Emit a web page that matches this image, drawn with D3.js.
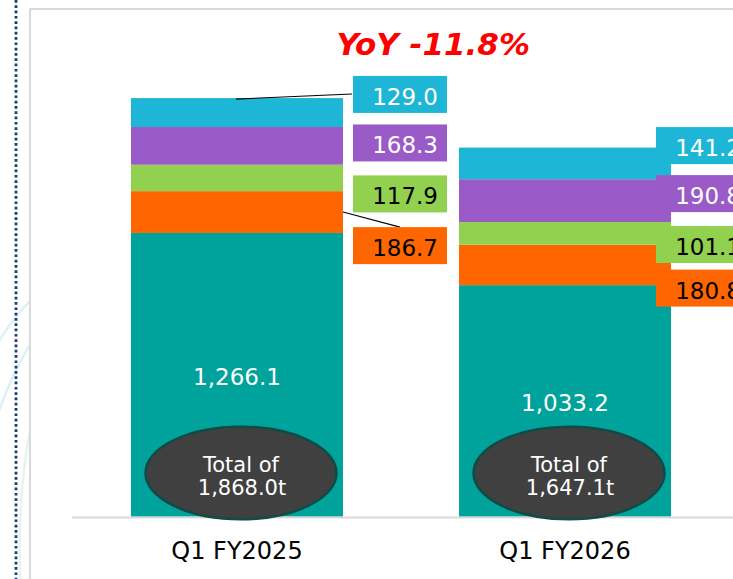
<!DOCTYPE html>
<html>
<head>
<meta charset="utf-8">
<script src="https://cdn.jsdelivr.net/npm/d3@7/dist/d3.min.js"></script>
<style>
  html, body { margin: 0; padding: 0; background: #ffffff; overflow: hidden; }
  svg { display: block; font-family: "DejaVu Sans", Verdana, sans-serif; }
</style>
</head>
<body>
<svg id="chart" width="733" height="579"></svg>
<script>
// Quarterly volumes (t), stacked from the bottom segment upward
const quarters = ["Q1 FY2025", "Q1 FY2026"];
const tealValues   = [1266.1, 1033.2];
const orangeValues = [186.7, 180.8];
const greenValues  = [117.9, 101.1];
const purpleValues = [168.3, 190.8];
const cyanValues   = [129.0, 141.2];
const totals       = [1868.0, 1647.1];
const yoyChange    = -11.8;

const seriesKeys   = ["teal", "orange", "green", "purple", "cyan"];
const seriesValues = [tealValues, orangeValues, greenValues, purpleValues, cyanValues];

const colors = {
  teal: "#00a39b", orange: "#ff6600", green: "#92d050",
  purple: "#9a5bc9", cyan: "#1db6d6"
};
const textColors = {
  teal: "#ffffff", orange: "#000000", green: "#000000",
  purple: "#ffffff", cyan: "#ffffff"
};

// Label placement: callout boxes beside each bar, nudged vertically apart
const calloutDx = [10, -15];
const calloutNudge = [
  { cyan: -18.1, purple: -2.9, green: 16.0, orange: 33.6 },
  { cyan: -17.8, purple: -7.0, green: 11.2, orange: 23.2 }
];
const leaderKeys = [["cyan", "orange"], []];

const rows = quarters.map((q, i) => {
  const r = { quarter: q };
  seriesKeys.forEach((k, j) => { r[k] = seriesValues[j][i]; });
  return r;
});

const svg = d3.select("#chart");
const W = 733, H = 579;

// Decorative background: faint arcs and dotted rule at the left edge
const deco = svg.append("g");
deco.append("path").attr("d", "M -4 346 Q 12 318 34 297")
  .attr("fill", "none").attr("stroke", "#dcf2f7").attr("stroke-width", 2.5);
deco.append("path").attr("d", "M -4 420 Q 10 376 34 338")
  .attr("fill", "none").attr("stroke", "#dcf2f7").attr("stroke-width", 2.5);
deco.append("path").attr("d", "M 31 425 Q 16 500 21 590")
  .attr("fill", "none").attr("stroke", "#e3f5ec").attr("stroke-width", 2.5);
deco.append("line").attr("x1", 16).attr("x2", 16).attr("y1", 0).attr("y2", H)
  .attr("stroke", "#1c3a78").attr("stroke-width", 2.8)
  .attr("stroke-dasharray", "2.7 2.6");

// Chart frame
svg.append("rect").attr("x", 31).attr("y", 10).attr("width", W).attr("height", H)
  .attr("fill", "#ffffff");
svg.append("path").attr("d", `M 30 ${H} V 9 H ${W + 2}`)
  .attr("fill", "none").attr("stroke", "#d9d9d9").attr("stroke-width", 2);

const x = d3.scaleBand().domain(quarters).range([73, 729])
  .paddingInner(0.3537).paddingOuter(0.1768);
const y = d3.scaleLinear().domain([0, 2000]).range([516.7, 68.5]);

const stacked = d3.stack().keys(seriesKeys)(rows);

// Bars
const layers = svg.append("g").selectAll("g").data(stacked).join("g")
  .attr("fill", d => colors[d.key]);
layers.selectAll("rect").data(d => d).join("rect")
  .attr("x", d => x(d.data.quarter))
  .attr("width", x.bandwidth())
  .attr("y", d => y(d[1]))
  .attr("height", d => y(d[0]) - y(d[1]));

// Baseline
svg.append("line").attr("x1", 72).attr("x2", W).attr("y1", 517.5).attr("y2", 517.5)
  .attr("stroke", "#d9d9d9").attr("stroke-width", 2);

const fmt = d3.format(",.1f");
const labelSize = 23;
const boxW = 94, boxH = 37;

// Bottom segment value inside the bar
stacked[0].forEach(d => {
  svg.append("text")
    .attr("x", x(d.data.quarter) + x.bandwidth() / 2)
    .attr("y", (y(d[0]) + y(d[1])) / 2 + 10.5)
    .attr("text-anchor", "middle")
    .attr("font-size", labelSize)
    .attr("fill", textColors.teal)
    .text(fmt(d[1] - d[0]));
});

// Callout labels for the upper segments
const callouts = svg.append("g");
quarters.forEach((q, i) => {
  const barRight = x(q) + x.bandwidth();
  const bx = barRight + calloutDx[i];
  seriesKeys.slice(1).forEach(key => {
    const seg = stacked.find(s => s.key === key)[i];
    const segMid = (y(seg[0]) + y(seg[1])) / 2;
    const cy = segMid + calloutNudge[i][key];
    if (leaderKeys[i].includes(key)) {
      const line = key === "cyan"
        ? [[x(q) + x.bandwidth() / 2 - 1, y(seg[1]) + 1], [bx - 1, cy - 0.4]]
        : [[barRight, segMid], [bx + boxW / 2, cy - boxH / 2]];
      callouts.append("line")
        .attr("x1", line[0][0]).attr("y1", line[0][1])
        .attr("x2", line[1][0]).attr("y2", line[1][1])
        .attr("stroke", "#000000").attr("stroke-width", 1.1);
    }
    callouts.append("rect")
      .attr("x", bx).attr("y", cy - boxH / 2)
      .attr("width", boxW).attr("height", boxH)
      .attr("fill", colors[key]);
    callouts.append("text")
      .attr("x", bx + boxW - 9).attr("y", cy + 10.5)
      .attr("text-anchor", "end")
      .attr("font-size", labelSize)
      .attr("fill", textColors[key])
      .text(fmt(seg[1] - seg[0]));
  });
});

// Total badges
quarters.forEach((q, i) => {
  const cx = x(q) + x.bandwidth() / 2 + 4;
  const cy = 473;
  svg.append("ellipse").attr("cx", cx).attr("cy", cy)
    .attr("rx", 95.5).attr("ry", 46.3)
    .attr("fill", "#404040").attr("stroke", "#124a46").attr("stroke-width", 2.5);
  const t = svg.append("text").attr("text-anchor", "middle")
    .attr("font-size", 21).attr("fill", "#ffffff");
  t.append("tspan").attr("x", cx).attr("y", cy - 1.3).text("Total of");
  t.append("tspan").attr("x", cx + 1).attr("y", cy + 22).text(fmt(totals[i]) + "t");
});

// Category axis labels
svg.append("g").selectAll("text").data(quarters).join("text")
  .attr("x", d => x(d) + x.bandwidth() / 2)
  .attr("y", 559.3)
  .attr("text-anchor", "middle")
  .attr("font-size", 24)
  .attr("fill", "#000000")
  .text(d => d);

// Year-over-year headline
svg.append("text")
  .attr("x", 433.3).attr("y", 54.5)
  .attr("text-anchor", "middle")
  .attr("font-size", 31).attr("font-weight", "bold").attr("font-style", "italic")
  .attr("fill", "#ff0000")
  .text(`YoY ${yoyChange.toFixed(1)}%`);
</script>
</body>
</html>
